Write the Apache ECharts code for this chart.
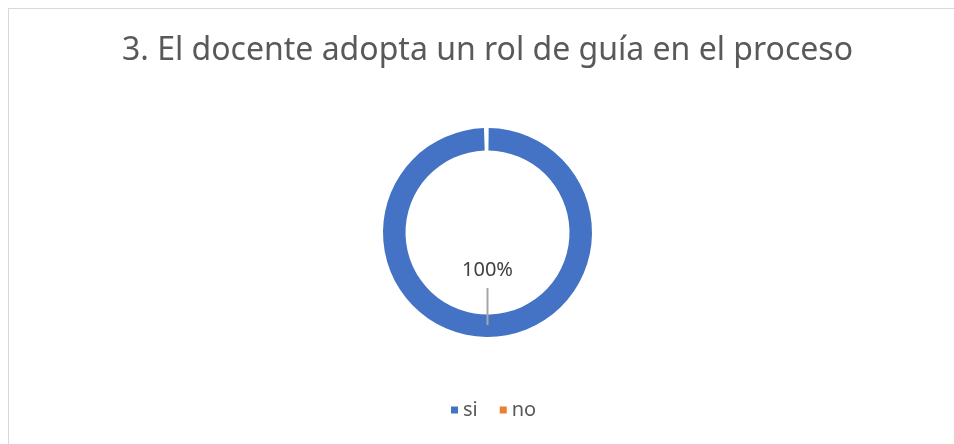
<!DOCTYPE html>
<html>
<head>
<meta charset="utf-8">
<script src="https://cdn.jsdelivr.net/npm/echarts@6/dist/echarts.min.js"></script>
<style>
  html, body { margin: 0; padding: 0; background: #fff; }
  #wrap { position: relative; width: 954px; height: 444px; overflow: hidden; }
  #frame { position: absolute; left: 8px; top: 8px; width: 1000px; height: 500px; border: 1px solid #d9d9d9; }
  #chart { position: absolute; left: 0; top: 0; width: 975px; height: 444px; }
</style>
</head>
<body>
<div id="wrap">
  <div id="frame"></div>
  <div id="chart"></div>
</div>
<script>
var chartTitle = '3. El docente adopta un rol de guía en el proceso';
var categories = ['si', 'no'];
var values = [100, 0];
var colors = ['#4472C4', '#ED7D31'];

var chart = echarts.init(document.getElementById('chart'));
var option = {
    animation: false,
    color: colors,
    title: {
        text: chartTitle,
        left: 'center',
        top: 30,
        textStyle: {
            fontFamily: 'Noto Sans',
            fontWeight: 'normal',
            fontSize: 32,
            color: '#595959'
        }
    },
    legend: {
        data: categories,
        bottom: 19,
        left: 446,
        icon: 'rect',
        itemWidth: 7,
        itemHeight: 7,
        itemGap: 22,
        textStyle: {
            fontFamily: 'Noto Sans',
            fontSize: 20,
            color: '#595959'
        }
    },
    series: [
        {
            name: 'respuesta',
            type: 'pie',
            center: ['50%', 232.5],
            radius: [82, 104.5],
            startAngle: 90,
            padAngle: 1.3,
            avoidLabelOverlap: false,
            label: {
                show: true,
                // percent on top, leader line drawn as a thin box under it
                formatter: function (p) {
                    return p.percent + '%\n{s|}\n{l|}';
                },
                fontFamily: 'Noto Sans',
                fontSize: 20,
                lineHeight: 24,
                color: '#404040',
                rich: {
                    s: { height: 6, lineHeight: 6 },
                    l: { width: 2, height: 37, lineHeight: 37, backgroundColor: '#a6a6a6' }
                }
            },
            labelLine: { show: false },
            labelLayout: function (params) {
                var r = params.rect;
                var cx = r.x + r.width / 2;
                var cy = r.y + r.height / 2;
                var R = r.height / 2;
                return {
                    x: cx,
                    y: cy + R * 0.244,
                    align: 'center',
                    verticalAlign: 'top'
                };
            },
            data: categories.map(function (c, i) {
                var item = { name: c, value: values[i] };
                if (values[i] === 0) {
                    item.label = { show: false };
                }
                return item;
            })
        }
    ]
};
chart.setOption(option);
window.addEventListener('resize', chart.resize);
</script>
</body>
</html>
